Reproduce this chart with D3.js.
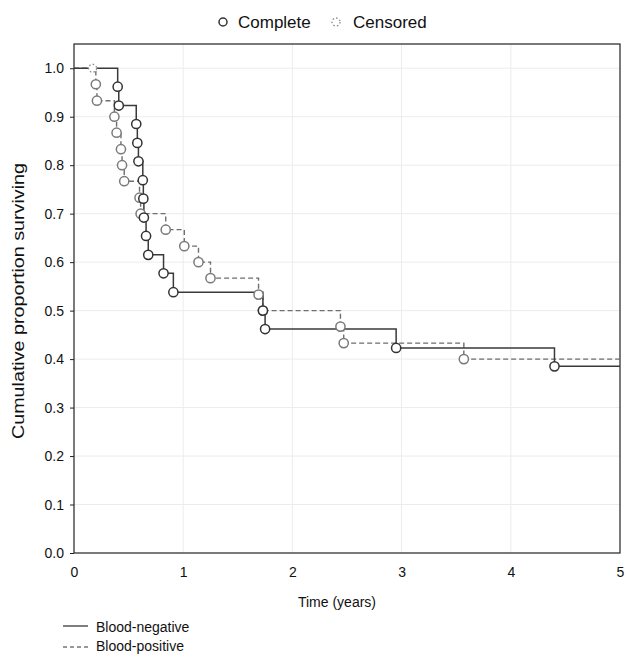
<!DOCTYPE html>
<html>
<head>
<meta charset="utf-8">
<script src="https://cdn.jsdelivr.net/npm/d3@7"></script>
<style>
  html, body { margin: 0; padding: 0; background: #fff; }
  svg { display: block; font-family: "Liberation Sans", Arial, Helvetica, sans-serif; }
</style>
</head>
<body>
<svg id="chart" width="627" height="655"></svg>
<script>
// Kaplan–Meier survival estimates by blood culture status
const negTimes  = [0.40, 0.41, 0.57, 0.58, 0.59, 0.63, 0.635, 0.64, 0.66, 0.68, 0.82, 0.91, 1.73, 1.75, 2.95, 4.40];
const negSurv   = [0.962, 0.923, 0.885, 0.846, 0.808, 0.769, 0.731, 0.692, 0.654, 0.615, 0.577, 0.538, 0.500, 0.462, 0.423, 0.385];
const posTimes  = [0.20, 0.21, 0.37, 0.39, 0.43, 0.44, 0.46, 0.60, 0.61, 0.84, 1.01, 1.14, 1.25, 1.69, 1.73, 2.44, 2.47, 3.57];
const posSurv   = [0.967, 0.933, 0.900, 0.867, 0.833, 0.800, 0.767, 0.733, 0.700, 0.667, 0.633, 0.600, 0.567, 0.533, 0.500, 0.467, 0.433, 0.400];
const posCensoredTimes = [0.17];
const posCensoredSurv  = [1.0];
const xTicks = [0, 1, 2, 3, 4, 5];
const yTicks = [0, 0.1, 0.2, 0.3, 0.4, 0.5, 0.6, 0.7, 0.8, 0.9, 1.0];
const endTime = 5;

const svg = d3.select("#chart");
const m = { left: 74, right: 620, top: 44, bottom: 553 };

const x = d3.scaleLinear().domain([0, 5]).range([m.left, m.right]);
const y = d3.scaleLinear().domain([0, 1.05]).range([m.bottom, m.top]);

// grid
const grid = svg.append("g").attr("stroke", "#ececec").attr("stroke-width", 1);
xTicks.slice(1, -1).forEach(t => grid.append("line")
  .attr("x1", x(t)).attr("x2", x(t)).attr("y1", m.top).attr("y2", m.bottom));
yTicks.slice(1).forEach(t => grid.append("line")
  .attr("x1", m.left).attr("x2", m.right).attr("y1", y(t)).attr("y2", y(t)));

// axes
const yAxis = svg.append("g").attr("transform", `translate(${m.left},0)`)
  .call(d3.axisLeft(y).tickValues(yTicks).tickFormat(d3.format(".1f")).tickSize(4));
yAxis.select(".domain").remove();
yAxis.selectAll("line").attr("stroke", "#222");
yAxis.selectAll("text").attr("x", -10).attr("text-anchor", "end")
  .attr("font-size", 14).attr("fill", "#111");

const xAxis = svg.append("g").attr("transform", `translate(0,${m.bottom})`)
  .call(d3.axisTop(x).tickValues(xTicks).tickFormat(d3.format("d")).tickSize(0));
xAxis.select(".domain").remove();
xAxis.selectAll("text").attr("y", 24).attr("dy", "0")
  .attr("font-size", 14).attr("fill", "#111");

// frame
svg.append("rect").attr("x", m.left).attr("y", m.top)
  .attr("width", m.right - m.left).attr("height", m.bottom - m.top)
  .attr("fill", "none").attr("stroke", "#222").attr("stroke-width", 1.2);

// step curve helper
function stepPoints(times, surv) {
  const pts = [[0, 1]];
  times.forEach((t, i) => pts.push([t, surv[i]]));
  pts.push([endTime, surv[surv.length - 1]]);
  return pts;
}
const line = d3.line().x(d => x(d[0])).y(d => y(d[1])).curve(d3.curveStepAfter);

svg.append("path").datum(stepPoints(posTimes, posSurv))
  .attr("d", line).attr("fill", "none").attr("stroke", "#6e6e6e")
  .attr("stroke-width", 1.4).attr("stroke-dasharray", "5,3");
svg.append("path").datum(stepPoints(negTimes, negSurv))
  .attr("d", line).attr("fill", "none").attr("stroke", "#3a3a3a")
  .attr("stroke-width", 1.5);

// event markers
function markers(times, surv, color) {
  svg.append("g").selectAll("circle").data(times.map((t, i) => [t, surv[i]]))
    .join("circle").attr("cx", d => x(d[0])).attr("cy", d => y(d[1])).attr("r", 4.6)
    .attr("fill", "#fff").attr("stroke", color).attr("stroke-width", 1.5);
}
markers(posTimes, posSurv, "#7a7a7a");
markers(negTimes, negSurv, "#333");

// censored markers
svg.append("g").selectAll("circle").data(posCensoredTimes.map((t, i) => [t, posCensoredSurv[i]]))
  .join("circle").attr("cx", d => x(d[0])).attr("cy", d => y(d[1])).attr("r", 4)
  .attr("fill", "#fff").attr("stroke", "#888").attr("stroke-width", 1.3)
  .attr("stroke-dasharray", "1.5,2.2");

// axis titles
svg.append("text").attr("x", (m.left + m.right) / 2 - 10).attr("y", 607)
  .attr("text-anchor", "middle").attr("font-size", 14).attr("fill", "#111")
  .text("Time (years)");
svg.append("text").attr("transform", `translate(24,301) rotate(-90)`)
  .attr("text-anchor", "middle").attr("font-size", 16).attr("fill", "#111")
  .attr("textLength", 276).attr("lengthAdjust", "spacingAndGlyphs")
  .text("Cumulative proportion surviving");

// top legend: marker types
const tl = svg.append("g").attr("font-size", 17).attr("fill", "#111");
tl.append("circle").attr("cx", 223).attr("cy", 22).attr("r", 4)
  .attr("fill", "#fff").attr("stroke", "#333").attr("stroke-width", 1.5);
tl.append("text").attr("x", 238).attr("y", 28).text("Complete");
tl.append("circle").attr("cx", 336).attr("cy", 22).attr("r", 4)
  .attr("fill", "#fff").attr("stroke", "#888").attr("stroke-width", 1.3)
  .attr("stroke-dasharray", "1.5,2.2");
tl.append("text").attr("x", 353).attr("y", 28).text("Censored");

// bottom legend: groups
const bl = svg.append("g").attr("font-size", 14).attr("fill", "#111");
bl.append("line").attr("x1", 63).attr("x2", 88).attr("y1", 626).attr("y2", 626)
  .attr("stroke", "#3a3a3a").attr("stroke-width", 1.3);
bl.append("text").attr("x", 96).attr("y", 632).text("Blood-negative");
bl.append("line").attr("x1", 63).attr("x2", 88).attr("y1", 647).attr("y2", 647)
  .attr("stroke", "#777").attr("stroke-width", 1.3).attr("stroke-dasharray", "4,3");
bl.append("text").attr("x", 96).attr("y", 651).text("Blood-positive");
</script>
</body>
</html>
